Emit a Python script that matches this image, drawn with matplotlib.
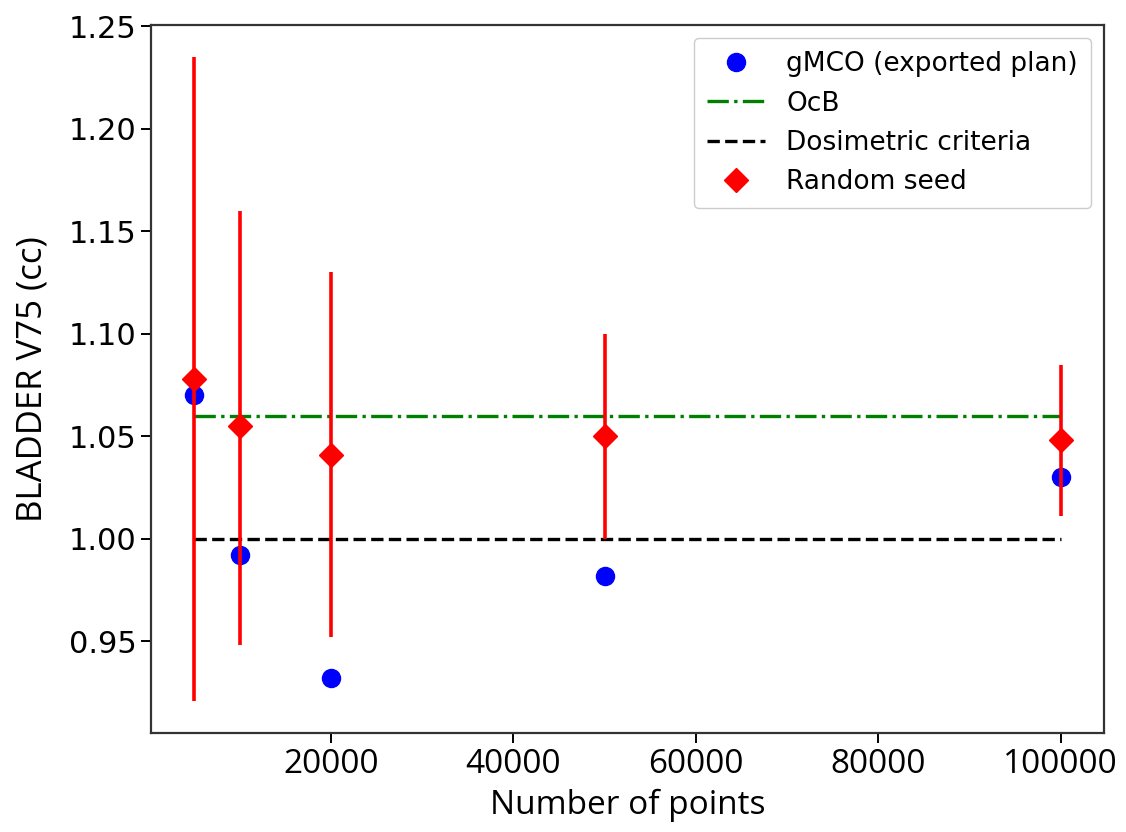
import matplotlib
matplotlib.use("Agg")
import matplotlib.pyplot as plt

# number of points used in each run
n_points = [5000, 10000, 20000, 50000, 100000]

# gMCO exported plan values
gmco = [1.070, 0.992, 0.932, 0.982, 1.030]

# random seed mean and spread (min / max)
seed_mean = [1.078, 1.055, 1.041, 1.050, 1.048]
seed_low = [0.921, 0.948, 0.952, 1.000, 1.011]
seed_high = [1.235, 1.160, 1.130, 1.100, 1.085]

ocb_value = 1.06
criteria_value = 1.00

err_lower = [m - lo for m, lo in zip(seed_mean, seed_low)]
err_upper = [hi - m for m, hi in zip(seed_mean, seed_high)]

fig = plt.figure(figsize=(11.26, 8.32), dpi=100)
ax = fig.add_axes([0.134, 0.119, 0.8465, 0.851])

ax.plot(n_points, gmco, 'o', color='blue', markersize=13,
        label='gMCO (exported plan)')
ax.hlines(ocb_value, n_points[0], n_points[-1], colors='green',
          linestyles='-.', linewidth=2.4, label='OcB')
ax.hlines(criteria_value, n_points[0], n_points[-1], colors='black',
          linestyles='--', linewidth=2.4, label='Dosimetric criteria')
ax.errorbar(n_points, seed_mean, yerr=[err_lower, err_upper], fmt='none',
            ecolor='red', elinewidth=2.6)
ax.plot(n_points, seed_mean, 'D', color='red', markersize=12.5,
        label='Random seed')

for spine in ax.spines.values():
    spine.set_linewidth(1.6)
    spine.set_color('#333333')

ax.tick_params(axis='both', length=7, width=1.4)
ax.tick_params(axis='y', labelsize=22)
for lab in ax.get_xticklabels():
    lab.set_fontfamily('Open Sans')
    lab.set_fontsize(24)

ax.set_xlabel('Number of points', fontsize=24, family='Open Sans',
              labelpad=6)
ax.set_ylabel('BLADDER V75 (cc)', fontsize=25, family='Open Sans',
              labelpad=14)

ax.legend(loc='upper right', fontsize=19, handlelength=2.2,
          borderpad=0.5, labelspacing=0.5, framealpha=1)

fig.savefig('out.png', dpi=100)
